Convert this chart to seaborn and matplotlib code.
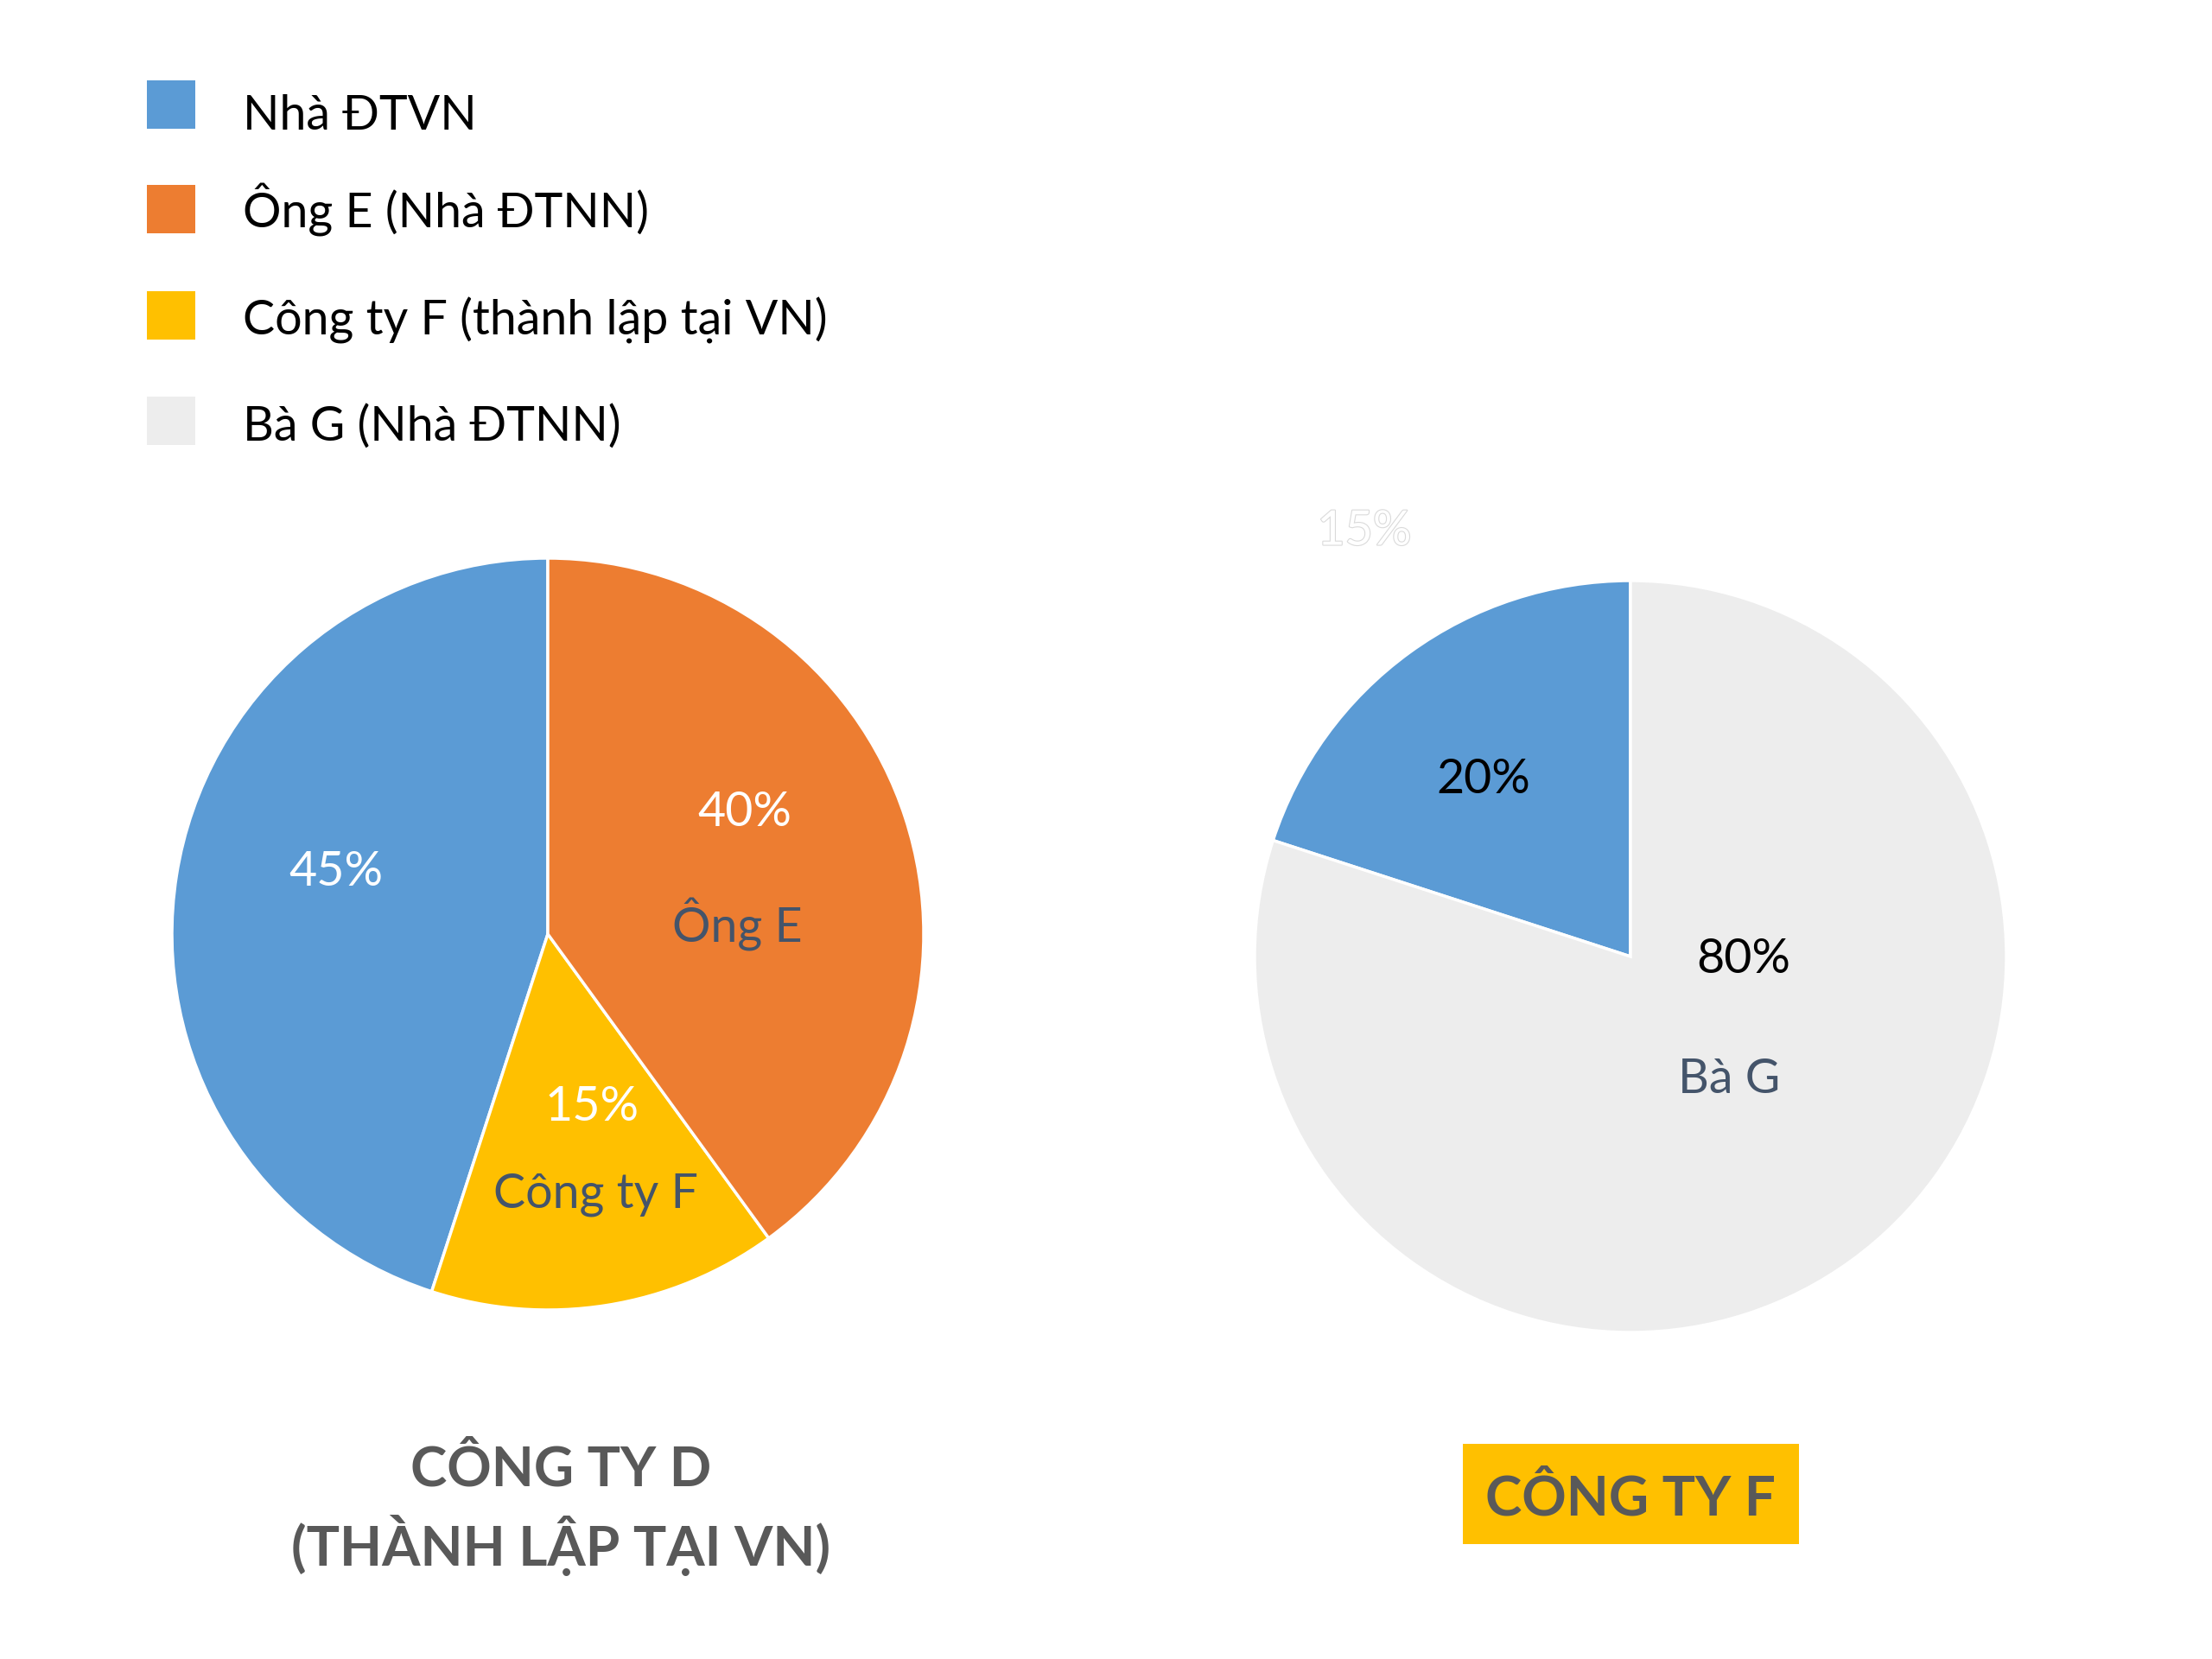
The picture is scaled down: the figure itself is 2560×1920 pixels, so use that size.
import matplotlib
matplotlib.use("Agg")
import matplotlib.pyplot as plt
import matplotlib.patheffects as pe
from matplotlib.patches import Rectangle
import seaborn as sns

# ---------------- data ----------------
legend_labels = ["Nhà ĐTVN", "Ông E (Nhà ĐTNN)", "Công ty F (thành lập tại VN)", "Bà G (Nhà ĐTNN)"]
legend_colors = ["#5B9BD5", "#ED7D31", "#FFC000", "#EDEDED"]

d_names = ["Nhà ĐTVN", "Công ty F", "Ông E"]
d_values = [45, 15, 40]
d_colors = ["#5B9BD5", "#FFC000", "#ED7D31"]
d_pct_labels = ["45%", "15%", "40%"]
d_name_labels = ["", "Công ty F", "Ông E"]

f_names = ["Nhà ĐTVN", "Bà G"]
f_values = [20, 80]
f_colors = ["#5B9BD5", "#EDEDED"]
f_pct_labels = ["20%", "80%"]
f_name_labels = ["", "Bà G"]

title_d = ["CÔNG TY D", "(THÀNH LẬP TẠI VN)"]
title_f = "CÔNG TY F"
ghost_label = "15%"

# ---------------- style ----------------
sns.set_theme(style="white")
FONTS = ["Lato", "Noto Sans", "DejaVu Sans"]
plt.rcParams["font.family"] = FONTS

W, H = 2560, 1920
fig = plt.figure(figsize=(W / 100, H / 100), dpi=100)
fig.patch.set_facecolor("white")


def fx(x):
    return x / W


def fy(y):
    return 1 - y / H


def pie_axes(cx, cy, r):
    ax = fig.add_axes([fx(cx - r), fy(cy + r), 2 * r / W, 2 * r / H])
    ax.axis("off")
    return ax


def fix_limits(ax):
    ax.set_xlim(-1, 1)
    ax.set_ylim(-1, 1)
    ax.set_aspect("equal")


# ---------------- legend ----------------
leg_sq_tops = [93, 214, 337, 459]
leg_baselines = [150, 263, 387, 510]
for lab, col, top, base in zip(legend_labels, legend_colors, leg_sq_tops, leg_baselines):
    fig.patches.append(Rectangle((fx(170), fy(top + 56)), 56 / W, 56 / H,
                                 transform=fig.transFigure, facecolor=col,
                                 edgecolor="none"))
    fig.text(fx(281), fy(base), lab, fontsize=40, color="black",
             ha="left", va="baseline")

TXT_SIZE = 40
LABEL_COL = "#44546A"

# ---------------- pie D ----------------
axd = pie_axes(634, 1081, 435)
axd.pie(d_values, colors=d_colors, startangle=90, counterclock=True, radius=1.0,
        wedgeprops=dict(edgecolor="white", linewidth=2.5))
fix_limits(axd)
d_pct_pos = [(-0.564, 0.165), (0.117, -0.462), (0.523, 0.323)]
d_name_pos = [None, (0.128, -0.692), (0.504, 0.026)]
for p, pos in zip(d_pct_labels, d_pct_pos):
    axd.text(pos[0], pos[1], p, fontsize=TXT_SIZE, color="white",
             ha="center", va="center")
for n, pos in zip(d_name_labels, d_name_pos):
    if n:
        axd.text(pos[0], pos[1], n, fontsize=TXT_SIZE, color=LABEL_COL,
                 ha="center", va="center")

# ---------------- pie F ----------------
axf = pie_axes(1887, 1107, 435)
axf.pie(f_values, colors=f_colors, startangle=90, counterclock=True, radius=1.0,
        wedgeprops=dict(edgecolor="white", linewidth=2.5))
fix_limits(axf)
f_pct_pos = [(-0.391, 0.470), (0.301, -0.008)]
f_name_pos = [None, (0.263, -0.327)]
for p, pos in zip(f_pct_labels, f_pct_pos):
    axf.text(pos[0], pos[1], p, fontsize=TXT_SIZE, color="black",
             ha="center", va="center")
for n, pos in zip(f_name_labels, f_name_pos):
    if n:
        axf.text(pos[0], pos[1], n, fontsize=TXT_SIZE, color=LABEL_COL,
                 ha="center", va="center")
axf.text(-0.708, 1.131, ghost_label, fontsize=TXT_SIZE, color="white",
         ha="center", va="center", clip_on=False,
         path_effects=[pe.withStroke(linewidth=1.6, foreground="#DADADA")])

# ---------------- titles ----------------
fig.text(fx(649), fy(1720), title_d[0], fontsize=46, fontweight="bold",
         color="#595959", ha="center", va="baseline")
fig.text(fx(649), fy(1812), title_d[1], fontsize=46, fontweight="bold",
         color="#595959", ha="center", va="baseline")

fig.patches.append(Rectangle((fx(1693), fy(1787)), (2082 - 1693) / W, (1787 - 1671) / H,
                             transform=fig.transFigure, facecolor="#FFC000",
                             edgecolor="none"))
fig.text(fx(1887), fy(1754), title_f, fontsize=46, fontweight="bold",
         color="#595959", ha="center", va="baseline")

fig.savefig("out.png", dpi=100, facecolor="white")
